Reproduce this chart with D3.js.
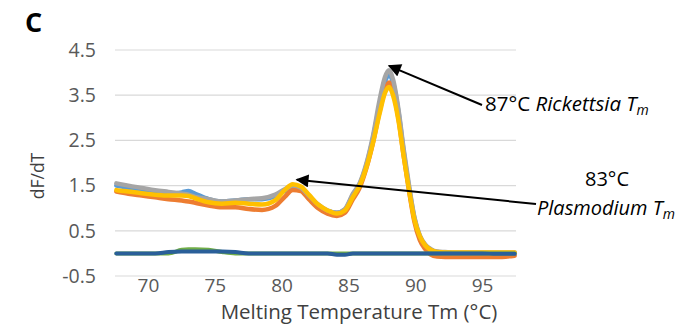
<!DOCTYPE html>
<html><head><meta charset="utf-8">
<script src="https://cdn.jsdelivr.net/npm/d3@7/dist/d3.min.js"></script>
<style>body{margin:0;background:#fff}svg{display:block}</style>
</head><body>
<script>
// ---- data ----
const temps = [67.6, 68.5, 69.5, 70.5, 71.5, 72.5, 73.0, 73.5, 74.5, 75.5, 76.5, 77.5, 78.5, 79.5, 80.2, 80.8, 81.4, 82.0, 82.7, 83.4, 84.1, 84.7, 85.3, 85.8, 86.3, 86.8, 87.3, 87.7, 88.0, 88.3, 88.7, 89.1, 89.5, 89.9, 90.3, 90.7, 91.1, 91.6, 92.2, 93.0, 94.0, 95.0, 96.0, 97.4];
const sampleBlue   = [1.50,1.45,1.40,1.36,1.32,1.35,1.38,1.32,1.20,1.15,1.17,1.20,1.20,1.27,1.38,1.45,1.40,1.25,1.06,0.94,0.90,0.97,1.30,1.53,1.95,2.55,3.30,3.80,3.95,3.78,3.15,2.25,1.45,0.78,0.38,0.18,0.08,0.03,0.02,0.01,0.01,0.01,0.01,0.01];
const sampleOrange = [1.37,1.32,1.28,1.24,1.20,1.17,1.15,1.12,1.06,1.02,1.02,0.98,0.96,1.05,1.25,1.40,1.38,1.20,1.00,0.88,0.83,0.90,1.20,1.45,1.88,2.45,3.15,3.62,3.78,3.58,3.00,2.15,1.38,0.70,0.30,0.10,-0.02,-0.07,-0.08,-0.08,-0.08,-0.08,-0.08,-0.05];
const sampleGray   = [1.55,1.50,1.45,1.40,1.36,1.32,1.30,1.25,1.20,1.15,1.17,1.20,1.22,1.30,1.42,1.50,1.45,1.28,1.08,0.95,0.90,0.98,1.32,1.55,1.98,2.60,3.40,3.90,4.05,3.85,3.20,2.30,1.50,0.80,0.40,0.20,0.10,0.04,0.03,0.02,0.02,0.02,0.02,0.02];
const sampleYellow = [1.40,1.37,1.33,1.30,1.28,1.28,1.27,1.22,1.13,1.10,1.12,1.10,1.08,1.18,1.40,1.53,1.48,1.30,1.08,0.95,0.88,0.95,1.25,1.50,1.90,2.45,3.10,3.55,3.68,3.50,2.95,2.15,1.40,0.75,0.38,0.18,0.08,0.03,0.02,0.02,0.02,0.02,0.02,0.02];
const controlGreen = [0,0,0,0,0,0.08,0.09,0.09,0.08,0.03,0,0,0,0,0,0,0,0,0,0,0,0,0,0,0,0,0,0,0,0,0,0,0,0,0,0,0,0,0,0,0,0,0,0];
const controlDark  = [0,0,0,0,0.03,0.04,0.04,0.04,0.04,0.04,0.03,0,0,0,0,0,0,0,0,0,-0.03,-0.03,0,0,0,0,0,0,0,0,0,0,0,0,0,0,0,0,0,0,0,0,-0.01,-0.01];
const yTicks = [-0.5, 0.5, 1.5, 2.5, 3.5, 4.5];
const xTicks = [70, 75, 80, 85, 90, 95];

const series = [
  {name:"Sample 1", values:sampleBlue, color:"#5B9BD5", w:4.5},
  {name:"Sample 2", values:sampleOrange, color:"#ED7D31", w:4.5},
  {name:"Sample 3", values:sampleGray, color:"#A5A5A5", w:4.5},
  {name:"Sample 4", values:sampleYellow, color:"#FFC000", w:4.5},
  {name:"NTC 1", values:controlGreen, color:"#70AD47", w:4},
  {name:"NTC 2", values:controlDark, color:"#2A5F99", w:4}
];

// ---- layout ----
const W = 693, H = 325;
const svg = d3.select("body").append("svg").attr("width", W).attr("height", H);
const x = d3.scaleLinear().domain([67.5, 97.5]).range([115, 516]);
const y = d3.scaleLinear().domain([-0.5, 4.5]).range([276, 50]);
const font = "'Open Sans', 'DejaVu Sans', sans-serif";
const grey = "#595959";

// gridlines
svg.append("g").selectAll("line").data(yTicks).join("line")
  .attr("x1", x.range()[0]).attr("x2", x.range()[1])
  .attr("y1", d => y(d)).attr("y2", d => y(d))
  .attr("stroke", "#D9D9D9").attr("stroke-width", 1.2);

// y tick labels
svg.append("g").selectAll("text").data(yTicks).join("text")
  .attr("x", 96).attr("y", d => y(d)).attr("dy", "0.35em")
  .attr("text-anchor", "end").attr("font-family", font).attr("font-size", 19.5).attr("fill", grey)
  .text(d => d.toFixed(1));

// x tick labels
svg.append("g").selectAll("text").data(xTicks).join("text")
  .attr("x", d => x(d)).attr("y", 292)
  .attr("text-anchor", "middle").attr("font-family", font).attr("font-size", 19).attr("fill", grey)
  .text(d => d);

// axis titles
svg.append("text").attr("x", 359).attr("y", 319).attr("text-anchor", "middle")
  .attr("font-family", font).attr("font-size", 20.5).attr("fill", "#404040")
  .text("Melting Temperature Tm (°C)");
svg.append("text").attr("transform", "translate(44,176) rotate(-90)").attr("text-anchor", "middle")
  .attr("font-family", font).attr("font-size", 17.5).attr("fill", "#404040")
  .text("dF/dT");
svg.append("text").attr("x", 25).attr("y", 32)
  .attr("font-family", font).attr("font-size", 27).attr("font-weight", "bold").attr("fill", "#000")
  .text("C");

// lines
const line = d3.line().x((d, i) => x(temps[i])).y(d => y(d)).curve(d3.curveMonotoneX);
svg.append("g").selectAll("path").data(series).join("path")
  .attr("d", s => line(s.values))
  .attr("fill", "none").attr("stroke", s => s.color).attr("stroke-width", s => s.w)
  .attr("stroke-linejoin", "round").attr("stroke-linecap", "round");

// arrows
const defs = svg.append("defs");
defs.append("marker").attr("id", "ah").attr("viewBox", "0 0 10 10")
  .attr("refX", 9).attr("refY", 5).attr("markerWidth", 7.5).attr("markerHeight", 6.5)
  .attr("markerUnits", "strokeWidth").attr("orient", "auto")
  .append("path").attr("d", "M0,0 L10,5 L0,10 Z").attr("fill", "#000");

const arrows = [
  {x1: 482, y1: 105, tx: 88.0, tv: 4.15},
  {x1: 536, y1: 204, tx: 81.1, tv: 1.63}
];
svg.append("g").selectAll("line").data(arrows).join("line")
  .attr("x1", d => d.x1).attr("y1", d => d.y1)
  .attr("x2", d => x(d.tx)).attr("y2", d => y(d.tv))
  .attr("stroke", "#000").attr("stroke-width", 2).attr("marker-end", "url(#ah)");

// annotations
const t1 = svg.append("text").attr("x", 485).attr("y", 111)
  .attr("font-family", font).attr("font-size", 20.5).attr("fill", "#000");
t1.append("tspan").text("87°C ");
t1.append("tspan").attr("font-style", "italic").text("Rickettsia T");
t1.append("tspan").attr("font-style", "italic").attr("font-size", 14).attr("dy", 4).text("m");

svg.append("text").attr("x", 607).attr("y", 186).attr("text-anchor", "middle")
  .attr("font-family", font).attr("font-size", 20).attr("fill", "#000").text("83°C");
const t2 = svg.append("text").attr("x", 537).attr("y", 215)
  .attr("font-family", font).attr("font-size", 20).attr("fill", "#000");
t2.append("tspan").attr("font-style", "italic").text("Plasmodium T");
t2.append("tspan").attr("font-style", "italic").attr("font-size", 14).attr("dy", 4).text("m");
</script>
</body></html>
